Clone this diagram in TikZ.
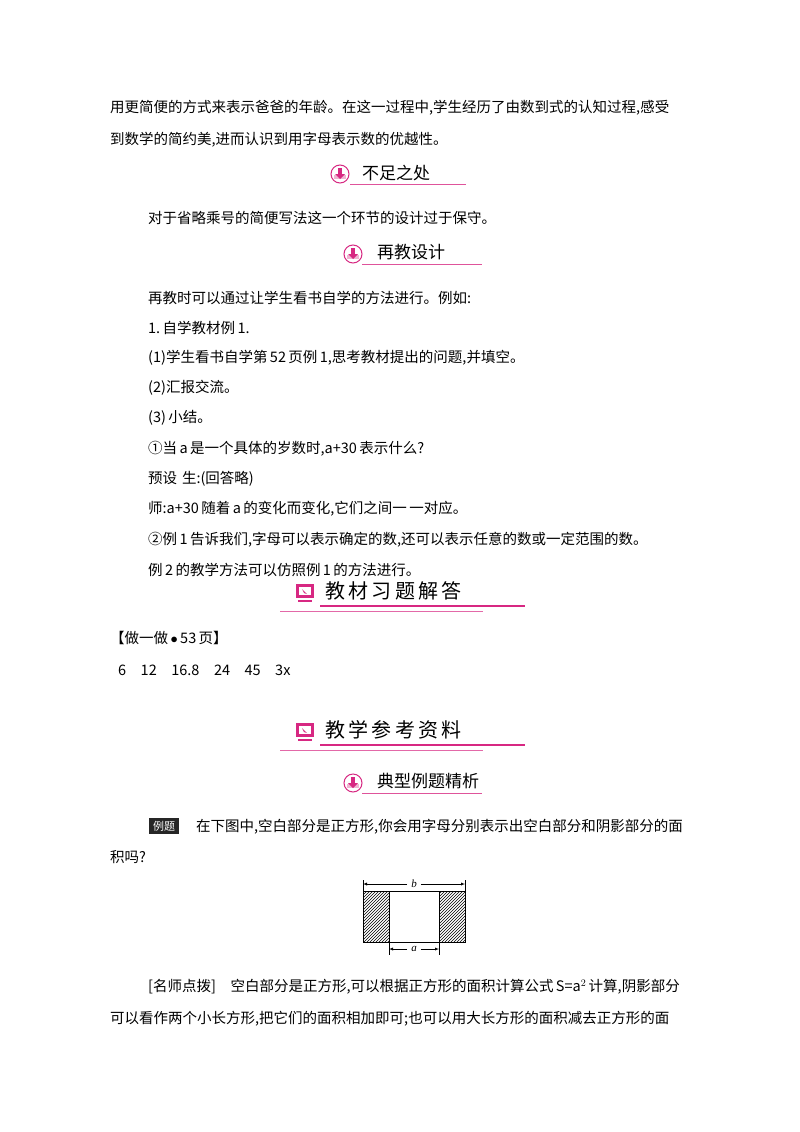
\documentclass[tikz,border=0pt]{standalone}
\usepackage{fontspec}
\setmainfont{Liberation Serif}
\newfontfamily\cjk{Noto Sans CJK SC}
\usetikzlibrary{patterns}
\definecolor{pk}{RGB}{215,40,130}
\definecolor{lpk}{RGB}{240,180,210}
\tikzset{
 tl/.style={anchor=west,inner sep=0pt,font=\cjk\fontsize{14.5}{16}\selectfont},
 hd/.style={anchor=west,inner sep=0pt,font=\cjk\fontsize{17}{18}\selectfont},
 bighd/.style={anchor=west,inner sep=0pt,font=\cjk\fontsize{20}{22}\selectfont},
 uline/.style={pk!80,line width=0.9pt},
 dim/.style={inner sep=4pt,font=\itshape\fontsize{11}{12}\selectfont},
}
\newcommand{\dicon}[2]{%
 \draw[pk,line width=1pt,fill=white] (#1,#2) circle (9);
 \fill[lpk] (#1-6,#2+5) rectangle (#1+6,#2+1);
 \fill[pk] (#1-2,#2-6) rectangle (#1+2,#2);
 \fill[pk] (#1-5,#2) -- (#1+5,#2) -- (#1,#2+5) -- cycle;}
\newcommand{\micon}[2]{%
 \fill[pk] (#1-9,#2-8) rectangle (#1+9,#2+6);
 \fill[white] (#1-6,#2-5) rectangle (#1+6,#2+3);
 \fill[pk] (#1-3,#2-3) -- (#1+2,#2+2) -- (#1-1,#2+1) -- cycle;
 \fill[pk] (#1-7,#2+8) rectangle (#1+7,#2+10);}
\begin{document}
\begin{tikzpicture}[x=1pt,y=-1pt]
\useasboundingbox[fill=white] (0,0) rectangle (800,1132);
\node[tl] (l1) at (110,108) {用更简便的方式来表示爸爸的年龄。在这一过程中,学生经历了由数到式的认知过程,感受};
\node[tl] (l2) at (110,140) {到数学的简约美,进而认识到用字母表示数的优越性。};
\dicon{340}{174}
\node[hd] (h1) at (362,173) {不足之处};
\draw[uline] (350,184) -- (466,184);
\node[tl] (l3) at (148,218) {对于省略乘号的简便写法这一个环节的设计过于保守。};
\dicon{353}{254}
\node[hd] (h2) at (377,252) {再教设计};
\draw[uline] (362,264) -- (482,264);
\node[tl] (l4) at (148,298) {再教时可以通过让学生看书自学的方法进行。例如:};
\node[tl] (l5) at (148,328) {1.\,自学教材例\,1.};
\node[tl] (l6) at (148,358) {(1)学生看书自学第\,52\,页例\,1,思考教材提出的问题,并填空。};
\node[tl] (l7) at (148,388) {(2)汇报交流。};
\node[tl] (l8) at (148,418) {(3)\,小结。};
\node[tl] (l9) at (148,449) {①当\,a\,是一个具体的岁数时,a+30\,表示什么?};
\node[tl] (l10) at (148,479) {预设\,\,生:(回答略)};
\node[tl] (l11) at (148,509) {师:a+30\,随着\,a\,的变化而变化,它们之间一\,一对应。};
\node[tl] (l12) at (148,540) {②例\,1\,告诉我们,字母可以表示确定的数,还可以表示任意的数或一定范围的数。};
\node[tl] (l13) at (148,570) {例\,2\,的教学方法可以仿照例\,1\,的方法进行。};
\micon{305}{592}
\node[bighd] (h3) at (325,591) {教\,材\,习\,题\,解\,答};
\draw[pk,line width=1.2pt] (320,606) -- (525,606);
\draw[pk!70,line width=0.6pt] (280,611) -- (483,611);
\node[tl] (l14) at (110,638) {【做一做\,$\bullet$\,53\,页】};
\node[tl] (l15) at (118,670) {6\quad 12\quad 16.8\quad 24\quad 45\quad 3x};
\micon{305}{731}
\node[bighd] (h4) at (325,730) {教\,学\,参\,考\,资\,料};
\draw[pk,line width=1.2pt] (320,745) -- (525,745);
\draw[pk!70,line width=0.6pt] (280,750) -- (483,750);
\dicon{353}{783}
\node[hd] (h5) at (377,781) {典型例题精析};
\draw[uline] (362,793) -- (482,793);
\fill[black!85] (149,818) rectangle (179,834);
\node[anchor=center,inner sep=0pt,text=white,font=\cjk\fontsize{11}{12}\selectfont] (tag) at (164,826) {例题};
\node[tl] (l16) at (196,827) {在下图中,空白部分是正方形,你会用字母分别表示出空白部分和阴影部分的面};
\node[tl] (l17) at (110,857) {积吗?};
\draw[pattern=north east lines] (363,891) rectangle (389,942);
\draw[pattern=north east lines] (439,891) rectangle (465,942);
\draw[line width=0.6pt] (363,891) rectangle (465,942);
\draw (363,880) -- (363,891) (465,880) -- (465,891);
\node[dim] (b) at (414,884) {b};
\draw[-latex] (b) -- (363,884);
\draw[-latex] (b) -- (465,884);
\draw (389,942) -- (389,955) (439,942) -- (439,955);
\node[dim] (a) at (414,949) {a};
\draw[-latex] (a) -- (389,949);
\draw[-latex] (a) -- (439,949);
\node[tl] (l18) at (148,987) {[名师点拨]\quad 空白部分是正方形,可以根据正方形的面积计算公式\,S=a$^2$\,计算,阴影部分};
\node[tl] (l19) at (110,1019) {可以看作两个小长方形,把它们的面积相加即可;也可以用大长方形的面积减去正方形的面};
\end{tikzpicture}
\end{document}
